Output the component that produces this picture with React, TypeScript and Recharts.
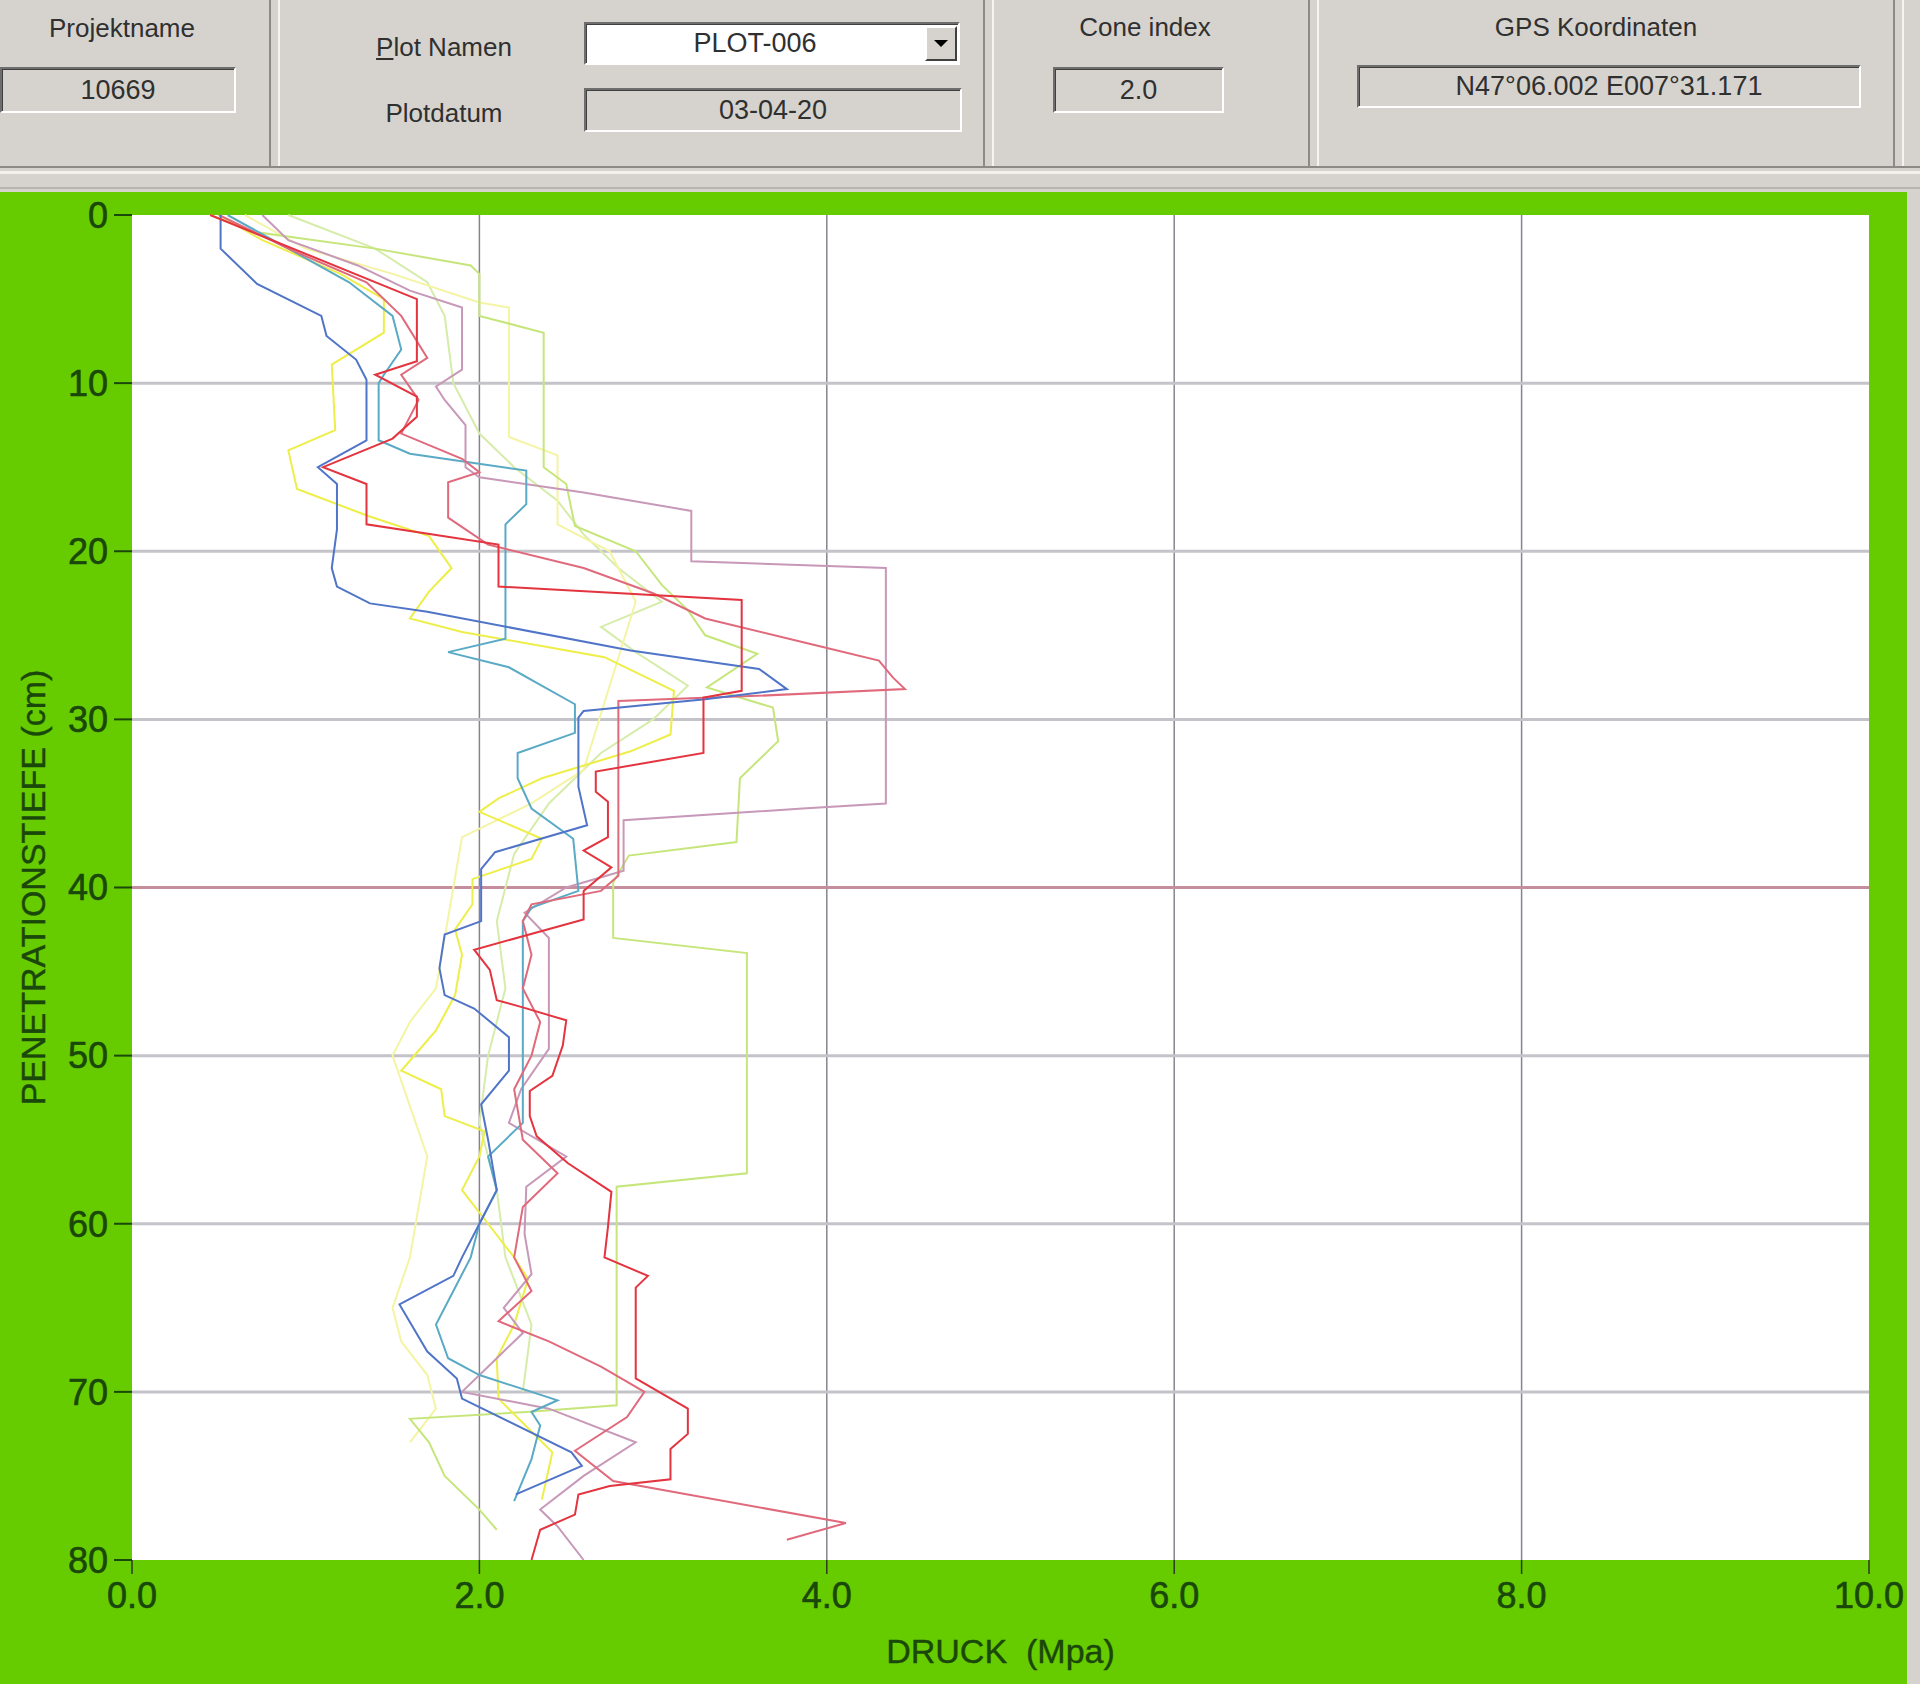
import { ScatterChart, Scatter, XAxis, YAxis, CartesianGrid, ReferenceLine, Label } from "recharts";

// each row: [depth cm, pressure MPa]
const redMain = [
  [0, 0.45], [5, 1.64], [8.7, 1.64], [9.5, 1.4], [10.8, 1.64], [12, 1.64], [13.3, 1.5], [15, 1.1], [16, 1.35],
  [18.4, 1.35], [19.6, 2.11], [22.1, 2.11], [22.9, 3.51], [28.3, 3.51], [28.7, 3.29], [32, 3.29], [33.1, 2.67],
  [34.3, 2.67], [34.9, 2.74], [37, 2.74], [37.8, 2.6], [38.8, 2.76], [40.2, 2.6], [41.9, 2.6], [43.7, 1.97],
  [44.9, 2.06], [46.7, 2.1], [47.1, 2.24], [47.9, 2.5], [49.4, 2.48], [51.2, 2.42], [52.1, 2.29], [53.6, 2.29],
  [54.8, 2.33], [56.4, 2.51], [58.1, 2.76], [60.2, 2.74], [62, 2.72], [63.1, 2.97], [63.8, 2.9], [69.2, 2.9],
  [71, 3.2], [72.5, 3.2], [73.4, 3.1], [75.2, 3.1], [75.6, 2.75], [76.1, 2.57], [77.3, 2.55], [78.2, 2.35], [80, 2.3],
];
const salmon = [
  [0, 0.5], [2, 0.9], [4, 1.35], [6, 1.55], [8.5, 1.7], [9.5, 1.55], [11, 1.65], [13, 1.55], [14.5, 1.9], [15.3, 2.0],
  [15.9, 1.82], [18, 1.82], [19.6, 2.05], [21, 2.6], [22.5, 3.0], [24, 3.3], [25.5, 3.9], [26.5, 4.3], [27.5, 4.38],
  [28.2, 4.45], [28.6, 3.6], [28.9, 2.8], [39.3, 2.8], [40.2, 2.7], [41, 2.3], [42, 2.25], [44, 2.3], [46, 2.25],
  [48, 2.35], [50, 2.3], [52, 2.2], [55, 2.25], [57, 2.45], [59, 2.25], [62, 2.2], [64, 2.3], [65.8, 2.11], [67, 2.4],
  [68.5, 2.7], [70, 2.95], [71.5, 2.85], [73.5, 2.55], [75.3, 2.77], [77.8, 4.11], [78.8, 3.77],
];
const mauve = [
  [0, 0.75], [1.5, 0.9], [3, 1.3], [4.5, 1.6], [5.5, 1.9], [9.2, 1.9], [10.2, 1.75], [11, 1.8], [12.5, 1.92], [15, 1.92],
  [15.6, 2.0], [16.5, 2.6], [17.6, 3.22], [20.6, 3.22], [21, 4.34], [35, 4.34], [35.3, 3.86], [36, 2.83], [39, 2.83],
  [40, 2.5], [41.5, 2.26], [43, 2.4], [49.6, 2.4], [52, 2.24], [54, 2.17], [56, 2.5], [57.8, 2.27], [60.6, 2.26],
  [63, 2.3], [65, 2.14], [66.5, 2.25], [68, 2.1], [70, 1.9], [71, 2.4], [73, 2.9], [75, 2.6], [77, 2.35], [78, 2.45], [80, 2.6],
];
const blue = [
  [0, 0.51], [2, 0.51], [4.1, 0.72], [6, 1.09], [7.2, 1.12], [8.6, 1.29], [9.8, 1.35], [13.4, 1.35], [15, 1.07],
  [16, 1.18], [18.7, 1.18], [21, 1.15], [22.1, 1.18], [23.1, 1.37], [23.6, 1.7], [25.9, 2.87], [27, 3.61], [28.2, 3.77],
  [28.8, 3.3], [29.5, 2.6], [29.9, 2.57], [34, 2.57], [36.3, 2.62], [37.9, 2.09], [38.9, 2.01], [42, 2.01], [42.8, 1.8],
  [44.8, 1.77], [46.4, 1.8], [47.2, 1.97], [48.9, 2.17], [50.9, 2.17], [52.9, 2.01], [55, 2.05], [58, 2.1], [60, 2.0],
  [62, 1.9], [63.1, 1.85], [64.8, 1.54], [67.6, 1.7], [69.2, 1.87], [70.4, 1.9], [73.6, 2.53], [74.4, 2.59], [76.1, 2.21],
];
const teal = [
  [0, 0.55], [2, 0.9], [4, 1.25], [6, 1.5], [8, 1.55], [9.5, 1.45], [10, 1.42], [13.4, 1.42], [14.2, 1.6], [15.2, 2.27],
  [17.2, 2.27], [18.4, 2.15], [25.2, 2.15], [26, 1.82], [26.9, 2.17], [29.1, 2.55], [30.8, 2.55], [32, 2.22], [33.5, 2.22],
  [35.3, 2.3], [37.1, 2.54], [40.2, 2.57], [41.2, 2.3], [42, 2.25], [54, 2.25], [56, 2.05], [58, 2.1], [60, 2.0],
  [62, 1.95], [64, 1.85], [66, 1.75], [68, 1.82], [69, 2.0], [70.5, 2.45], [71.2, 2.3], [72, 2.35], [74, 2.3], [76.5, 2.2],
];
const yellow = [
  [0, 0.5], [1.5, 0.75], [3.5, 1.2], [5, 1.45], [7, 1.45], [8.9, 1.15], [12.8, 1.17], [14, 0.9], [16.3, 0.95],
  [17.9, 1.36], [19.1, 1.71], [21, 1.84], [22.4, 1.71], [24, 1.6], [24.8, 1.9], [26.3, 2.72], [28.3, 3.12], [30.9, 3.1],
  [31.9, 2.87], [33.5, 2.36], [34.7, 2.11], [35.5, 2.0], [37.1, 2.36], [38.3, 2.3], [39.5, 1.96], [41, 1.96], [42.5, 1.86],
  [44, 1.9], [46.4, 1.86], [48.5, 1.75], [50.9, 1.55], [52, 1.78], [53.6, 1.8], [54.5, 2.03], [56, 2.0], [58, 1.9],
  [60, 2.05], [62, 2.2], [63.3, 2.28], [66, 2.2], [68, 2.1], [70.4, 2.11], [73.6, 2.42], [76.4, 2.36],
];
const paleYellow = [
  [0, 0.65], [2, 1.0], [3.5, 1.5], [5.2, 2.0], [5.5, 2.17], [13.2, 2.17], [14.3, 2.45], [18.4, 2.45], [20, 2.75],
  [23, 2.9], [28, 2.75], [33, 2.6], [35, 2.3], [37, 1.9], [40, 1.85], [43, 1.8], [46, 1.75], [48, 1.6], [50, 1.5],
  [53, 1.6], [56, 1.7], [59, 1.65], [62, 1.6], [65, 1.5], [67, 1.55], [69, 1.7], [71, 1.75], [73, 1.6],
];
const green = [
  [0, 0.45], [1, 0.7], [2, 1.4], [3, 1.95], [3.5, 2.0], [6, 2.0], [7, 2.37], [15, 2.37], [16, 2.5], [18.5, 2.55],
  [20, 2.9], [22, 3.05], [23.5, 3.2], [25, 3.3], [26.1, 3.6], [28.1, 3.31], [29.3, 3.69], [31.3, 3.72], [33.5, 3.5],
  [37.3, 3.48], [38.1, 2.86], [39.7, 2.77], [43, 2.77], [43.9, 3.54], [57, 3.54], [57.8, 2.79], [70.8, 2.79],
  [71.2, 2.27], [71.6, 1.6], [73, 1.71], [75, 1.8], [77, 2.0], [78.2, 2.1],
];
const paleGreen = [
  [0, 0.9], [2, 1.4], [4, 1.7], [6, 1.8], [10, 1.85], [13, 2.0], [15, 2.2], [17, 2.45], [19, 2.6], [21, 2.8],
  [23, 3.05], [24.5, 2.7], [26, 2.9], [28, 3.2], [30, 3.0], [32, 2.7], [35, 2.4], [38, 2.2], [42, 2.1], [46, 2.15],
  [50, 2.05], [54, 2.0], [58, 2.1], [62, 2.15], [66, 2.3], [70, 2.25],
];

const xTicks = [0, 2, 4, 6, 8, 10];
const yTicks = [0, 10, 20, 30, 40, 50, 60, 70, 80];

const series = [
  { name: "paleGreen", rows: paleGreen, color: "#d6ecaa" },
  { name: "paleYellow", rows: paleYellow, color: "#f4f4a4" },
  { name: "green", rows: green, color: "#c6e67c" },
  { name: "yellow", rows: yellow, color: "#eeee48" },
  { name: "mauve", rows: mauve, color: "#c898b8" },
  { name: "teal", rows: teal, color: "#5aaac6" },
  { name: "salmon", rows: salmon, color: "#e06a7c" },
  { name: "blue", rows: blue, color: "#5074c8" },
  { name: "red", rows: redMain, color: "#e3343f" },
];

const axisGreen = "#1a470a";
const uiFont = "'Liberation Sans', Arial, sans-serif";

const sunken: React.CSSProperties = {
  position: "absolute",
  boxSizing: "border-box",
  borderTop: "2px solid #6e6e6e",
  borderLeft: "2px solid #6e6e6e",
  borderBottom: "2px solid #ffffff",
  borderRight: "2px solid #ffffff",
  boxShadow: "inset 1px 1px 0 #404040",
  background: "#d6d3ce",
  display: "flex",
  alignItems: "center",
  justifyContent: "center",
  fontSize: 27,
  color: "#303030",
};

function Caption({ x, y, children }: { x: number; y: number; children: React.ReactNode }) {
  return (
    <div style={{ position: "absolute", left: x - 150, top: y - 16, width: 300, textAlign: "center", fontSize: 26, color: "#303030", lineHeight: "32px" }}>
      {children}
    </div>
  );
}

function Header() {
  const seps = [269, 983, 1308, 1893];
  return (
    <div style={{ position: "absolute", left: 0, top: 0, width: 1920, height: 192, background: "#d6d3ce", fontFamily: uiFont }}>
      {seps.map((x) => (
        <div key={x}>
          <div style={{ position: "absolute", left: x, top: 0, width: 2, height: 168, background: "#8c8a86" }} />
          <div style={{ position: "absolute", left: x + 9, top: 0, width: 2, height: 168, background: "#f4f3f0" }} />
        </div>
      ))}
      <div style={{ position: "absolute", left: 0, top: 166, width: 1920, height: 2, background: "#8c8a86" }} />
      <div style={{ position: "absolute", left: 0, top: 171, width: 1920, height: 3, background: "#f2f1ee" }} />
      <div style={{ position: "absolute", left: 0, top: 187, width: 1920, height: 2, background: "#b8b5b0" }} />

      <Caption x={122} y={28}>Projektname</Caption>
      <div style={{ ...sunken, left: 0, top: 67, width: 236, height: 46 }}>10669</div>

      <Caption x={444} y={47}><u>P</u>lot Namen</Caption>
      <div style={{ ...sunken, left: 584, top: 22, width: 376, height: 43, background: "#ffffff", justifyContent: "flex-start" }}>
        <span style={{ width: 338, textAlign: "center" }}>PLOT-006</span>
        <div style={{ position: "absolute", right: 1, top: 2, width: 32, height: 35, background: "#d6d3ce", borderTop: "2px solid #fff", borderLeft: "2px solid #fff", borderRight: "2px solid #404040", borderBottom: "2px solid #404040", boxSizing: "border-box" }}>
          <div style={{ position: "absolute", left: 7, top: 12, width: 0, height: 0, borderLeft: "7px solid transparent", borderRight: "7px solid transparent", borderTop: "7px solid #000" }} />
        </div>
      </div>
      <Caption x={444} y={113}>Plotdatum</Caption>
      <div style={{ ...sunken, left: 584, top: 88, width: 378, height: 44 }}>03-04-20</div>

      <Caption x={1145} y={27}>Cone index</Caption>
      <div style={{ ...sunken, left: 1053, top: 67, width: 171, height: 46 }}>2.0</div>

      <Caption x={1596} y={27}>GPS Koordinaten</Caption>
      <div style={{ ...sunken, left: 1357, top: 65, width: 504, height: 43 }}>N47°06.002 E007°31.171</div>
    </div>
  );
}

const noDot = () => <g />;

export default function App() {
  return (
    <div style={{ position: "absolute", left: 0, top: 0, width: 1920, height: 1684, background: "#d6d3ce", fontFamily: uiFont }}>
      <Header />
      <div style={{ position: "absolute", left: 0, top: 192, width: 1907, height: 1492, background: "#66cc00" }}>
        <ScatterChart width={1907} height={1492} margin={{ top: 23, right: 38, bottom: 0, left: 0 }}>
          <CartesianGrid fill="#ffffff" stroke="none" />
          <CartesianGrid horizontal={false} verticalValues={[2, 4, 6, 8]} stroke="#85858f" strokeWidth={1.5} />
          <CartesianGrid vertical={false} horizontalValues={[10, 20, 30, 50, 60, 70]} stroke="#c4c3ca" strokeWidth={3} />
          <ReferenceLine y={40} stroke="#c48e9c" strokeWidth={3} />
          <XAxis
            type="number"
            dataKey="p"
            domain={[0, 10]}
            ticks={xTicks}
            tickFormatter={(v: number) => v.toFixed(1)}
            axisLine={false}
            tickLine={{ stroke: "#2c3a20", strokeWidth: 1.5 }}
            tickSize={14}
            tickMargin={8}
            height={124}
            tick={{ fill: axisGreen, stroke: axisGreen, strokeWidth: 0.6, fontSize: 36, fontFamily: uiFont }}
          >
            <Label value={"DRUCK\u00A0 (Mpa)"} position="insideBottom" offset={21} fill={axisGreen} stroke={axisGreen} strokeWidth={0.4} fontSize={34} fontFamily={uiFont} />
          </XAxis>
          <YAxis
            type="number"
            dataKey="d"
            reversed
            domain={[0, 80]}
            ticks={yTicks}
            axisLine={false}
            tickLine={{ stroke: axisGreen, strokeWidth: 2 }}
            tickSize={18}
            tickMargin={6}
            width={132}
            tick={{ fill: axisGreen, stroke: axisGreen, strokeWidth: 0.6, fontSize: 36, fontFamily: uiFont }}
          >
            <Label
              content={(props: any) => {
                const vb = props.viewBox || { x: 0, y: 0, height: 0 };
                const cx = vb.x + 33;
                const cy = vb.y + vb.height / 2;
                return (
                  <text x={cx} y={cy} transform={`rotate(-90 ${cx} ${cy})`} textAnchor="middle" dominantBaseline="central" fill={axisGreen} stroke={axisGreen} strokeWidth={0.4} fontSize={34} fontFamily={uiFont}>
                    PENETRATIONSTIEFE (cm)
                  </text>
                );
              }}
            />
          </YAxis>
          {series.map((s) => (
            <Scatter
              key={s.name}
              name={s.name}
              data={s.rows.map(([d, p]) => ({ d, p }))}
              line={{ stroke: s.color, strokeWidth: 2 }}
              lineType="joint"
              shape={noDot}
              fill={s.color}
              isAnimationActive={false}
            />
          ))}
        </ScatterChart>
      </div>
    </div>
  );
}
